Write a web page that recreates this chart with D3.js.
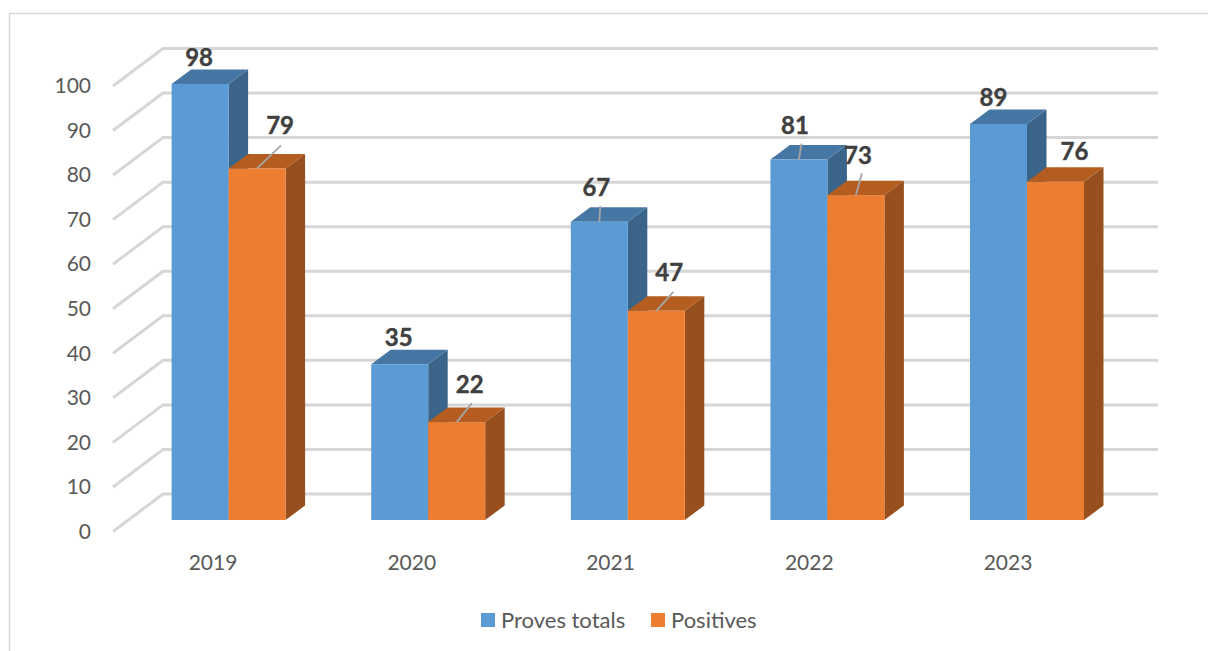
<!DOCTYPE html>
<html><head><meta charset="utf-8">
<style>html,body{margin:0;padding:0;background:#fff}svg{display:block}text{font-family:Lato,"Open Sans",sans-serif}</style>
<script src="https://cdn.jsdelivr.net/npm/d3@7/dist/d3.min.js"></script>
</head><body><svg id="c" width="1208" height="651"></svg>
<script>
const categories = ["2019","2020","2021","2022","2023"];
const seriesNames = ["Proves totals","Positives"];
const provesTotals = [98,35,67,81,89];
const positives = [79,22,47,73,76];
const yTicks = [0,10,20,30,40,50,60,70,80,90,100];

const seriesColors = [
  {front:"#5B9BD5", top:"#4676A3", side:"#3A6489"},
  {front:"#ED7D31", top:"#B55D21", side:"#974F1D"}
];
const seriesValues = [provesTotals, positives];
// label offsets from the bar's top-centre, and leader-line ends (layout only)
const labelLayout = [
  [{dx:-1,dy:-27},{dx:23,dy:-44}],
  [{dx:-1,dy:-28},{dx:13,dy:-39}],
  [{dx:-3,dy:-35},{dx:13,dy:-39}],
  [{dx:-4,dy:-35},{dx:2,dy:-41}],
  [{dx:-5,dy:-27},{dx:19,dy:-31}]
];
const leaders = [
  [null,[24,-23]],
  [null,[15,-19]],
  [[1,-16],[17,-19]],
  [[2.5,-16],[6,-22]],
  [null,null]
];

const svg = d3.select("#c");
// frame
svg.append("path").attr("d","M9.5,651V13.5H1208").attr("fill","none").attr("stroke","#D9D9D9").attr("stroke-width",1.5);

const depthX = 50, depthY = 37.5;      // wall depth
const barDX = 19.5, barDY = 14.5;      // bar depth
const yFront = d3.scaleLinear().domain([0,100]).range([531.5,86]);
const yBar = d3.scaleLinear().domain([0,100]).range([520,75]);
const x0 = d3.scaleBand().domain(categories).range([128.8,1126.8]).paddingInner(0.429).paddingOuter(0.2145);
const x1 = d3.scaleBand().domain(seriesNames).range([0,x0.bandwidth()]);
const xLabel = d3.scalePoint().domain(categories).range([213,1008]);

// gridlines
const gridGroup = svg.append("g");
gridGroup.selectAll("path").data(yTicks).join("path")
  .attr("d",d=>{const y=yFront(d);const xs=113;return `M${xs},${y}L${xs+depthX},${y-depthY}H1158`;})
  .attr("fill","none").attr("stroke","#D6D6D6").attr("stroke-width",3);

// y axis
const yAxis = d3.axisLeft(yFront).tickValues(yTicks).tickSize(0).tickPadding(0);
const yg = svg.append("g").attr("transform","translate(91,0)").call(yAxis);
yg.select(".domain").remove();
yg.selectAll("text").attr("font-size",21).attr("fill","#595959").style("font-family","Lato");

// bars
categories.forEach((c,i)=>{
  seriesNames.forEach((s,j)=>{
    const v = seriesValues[j][i];
    const xl = x0(c)+x1(s), w = x1.bandwidth();
    const yt = yBar(v), yb = yBar(0);
    const col = seriesColors[j];
    const g = svg.append("g");
    g.append("path").attr("fill",col.side)
      .attr("d",`M${xl+w},${yt}L${xl+w+barDX},${yt-barDY}V${yb-barDY}L${xl+w},${yb}Z`);
    g.append("path").attr("fill",col.top)
      .attr("d",`M${xl},${yt}L${xl+barDX},${yt-barDY}H${xl+w+barDX}L${xl+w},${yt}Z`);
    g.append("rect").attr("x",xl).attr("y",yt).attr("width",w).attr("height",yb-yt).attr("fill",col.front);
  });
});

// leader lines and data labels
categories.forEach((c,i)=>{
  seriesNames.forEach((s,j)=>{
    const v = seriesValues[j][i];
    const cx = x0(c)+x1(s)+x1.bandwidth()/2, yt = yBar(v);
    const l = leaders[i][j];
    if(l) svg.append("line").attr("x1",cx).attr("y1",yt).attr("x2",cx+l[0]).attr("y2",yt+l[1])
      .attr("stroke","#A6A6A6").attr("stroke-width",1.8);
    const o = labelLayout[i][j];
    svg.append("text").attr("x",cx+o.dx).attr("y",yt+o.dy).attr("text-anchor","middle")
      .attr("dominant-baseline","central").attr("font-size",24).attr("font-weight",700)
      .attr("fill","#404040").attr("stroke","#404040").attr("stroke-width",0.4).text(v);
  });
});

// category labels
svg.append("g").selectAll("text").data(categories).join("text")
  .attr("x",d=>xLabel(d)).attr("y",561).attr("text-anchor","middle")
  .attr("dominant-baseline","central").attr("font-size",21).attr("fill","#595959").text(d=>d);

// legend
const legendX = [481,651];
const legend = svg.append("g");
seriesNames.forEach((s,j)=>{
  legend.append("rect").attr("x",legendX[j]).attr("y",613).attr("width",14).attr("height",14).attr("fill",seriesColors[j].front);
  legend.append("text").attr("x",legendX[j]+20).attr("y",619).attr("dominant-baseline","central")
    .attr("font-size",22).attr("fill","#595959").text(s);
});
</script></body></html>
